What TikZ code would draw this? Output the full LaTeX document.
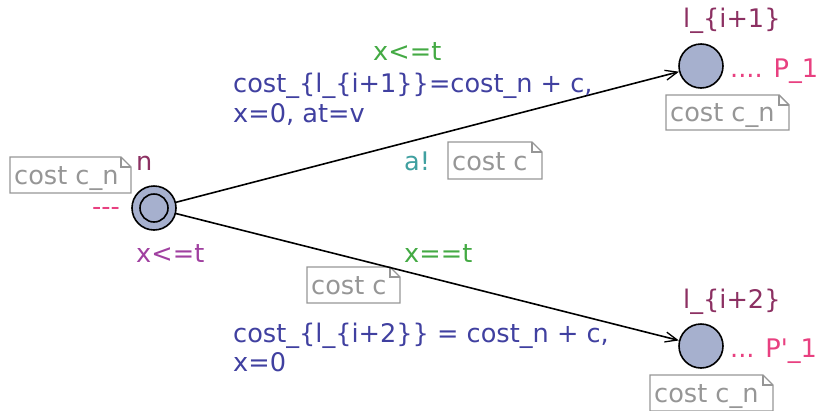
\documentclass[tikz,border=0pt]{standalone}
\usepackage{fontspec}
\setmainfont{DejaVu Sans}
\usetikzlibrary{arrows.meta}

\definecolor{locname}{RGB}{140,48,98}
\definecolor{guardcol}{RGB}{68,170,68}
\definecolor{assigncol}{RGB}{64,64,160}
\definecolor{synccol}{RGB}{64,160,160}
\definecolor{invcol}{RGB}{160,64,160}
\definecolor{pinkcol}{RGB}{232,64,128}
\definecolor{locfill}{RGB}{166,176,206}
\definecolor{notecol}{RGB}{150,150,150}

\tikzset{
  lbl/.style={anchor=base west, inner sep=0pt, font=\fontsize{25.6}{30}\selectfont},
  loc/.style={circle, draw=black, line width=1.6pt, fill=locfill, minimum size=44pt, inner sep=0pt},
  edge/.style={draw=black, line width=1.6pt, -{Straight Barb[length=12pt,width=10pt,line width=1.3pt]}},
  notetext/.style={lbl, text=notecol},
  noteline/.style={draw=notecol, line width=1.4pt},
}

% note box with a folded corner: name, x0, y0, x1, y1, text
\newcommand{\costnote}[6]{%
  \draw[noteline] (#2,#3) -- (#4-10,#3) -- (#4,#3+10) -- (#4,#5) -- (#2,#5) -- cycle;
  \draw[noteline] (#4-10,#3) -- (#4-10,#3+10) -- (#4,#3+10);
  \node[notetext] (#1) at (#2+4,#5-9) {#6};
}

\begin{document}
\begin{tikzpicture}[x=1pt,y=-1pt]
\useasboundingbox (0,0) rectangle (818,410);

% locations
\node[loc] (n) at (154,208) {};
\node[circle, draw=black, line width=1.6pt, minimum size=28pt, inner sep=0pt] (ninner) at (154,208) {};
\node[loc] (l1) at (701,66) {};
\node[loc] (l2) at (701,346) {};

% location labels
\node[lbl, text=locname] (nname) at (136,170) {n};
\node[lbl, text=pinkcol] (ndash) at (92,215) {{-}{-}{-}};
\node[lbl, text=invcol] (ninv) at (136,262) {x<=t};
\node[lbl, text=locname] (l1name) at (683,27) {l\_\{i+1\}};
\node[lbl, text=pinkcol] (l1p) at (730,77) {.... P\_1};
\node[lbl, text=locname] (l2name) at (683,308) {l\_\{i+2\}};
\node[lbl, text=pinkcol] (l2p) at (730,357) {... P\textquotesingle\_1};

% notes
\costnote{cn0}{10}{157}{131}{193}{cost c\_n}
\costnote{cn1}{666}{95}{789}{130}{cost c\_n}
\costnote{cn2}{650}{375}{773}{411}{cost c\_n}
\costnote{ce1}{448}{142}{542}{179}{cost c}
\costnote{ce2}{307}{267}{400}{303}{cost c}

% edges
\draw[edge] (n) -- (l1);
\draw[edge] (n) -- (l2);

% edge labels
\node[lbl, text=guardcol] (g1) at (373,60) {x<=t};
\node[lbl, text=assigncol] (a1) at (233,92) {cost\_\{l\_\{i+1\}\}=cost\_n + c,};
\node[lbl, text=assigncol] (a1b) at (233,122) {x=0, at=v};
\node[lbl, text=synccol] (s1) at (404,170) {a!};
\node[lbl, text=guardcol] (g2) at (404,262) {x==t};
\node[lbl, text=assigncol] (a2) at (233,342) {cost\_\{l\_\{i+2\}\} = cost\_n + c,};
\node[lbl, text=assigncol] (a2b) at (233,371) {x=0};
\end{tikzpicture}
\end{document}
